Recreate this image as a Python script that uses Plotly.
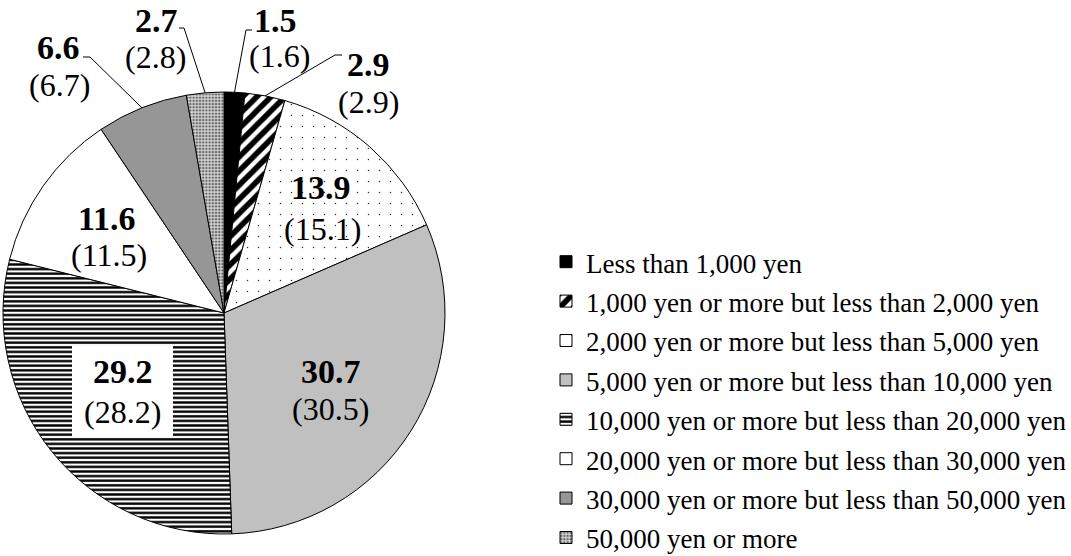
import math
import plotly.graph_objects as go

# Monthly spending brackets and their shares (%), current survey and (previous survey)
categories = [
    "Less than 1,000 yen",
    "1,000 yen or more but less than 2,000 yen",
    "2,000 yen or more but less than 5,000 yen",
    "5,000 yen or more but less than 10,000 yen",
    "10,000 yen or more but less than 20,000 yen",
    "20,000 yen or more but less than 30,000 yen",
    "30,000 yen or more but less than 50,000 yen",
    "50,000 yen or more",
]
share_current = [1.5, 2.9, 13.9, 30.7, 29.2, 11.6, 6.6, 2.7]
share_previous = [1.6, 2.9, 15.1, 30.5, 28.2, 11.5, 6.7, 2.8]

W, H = 1071, 556
FONT = "Liberation Serif"

# slice fills (monochrome print style)
base_colors = ["#000000", "#ffffff", "#ffffff", "#c0c0c0", "#ffffff", "#ffffff", "#969696", "#dcdcdc"]
pat_shapes = ["", "/", ".", "", "-", "", "", "."]
pat_fg = ["#000000", "#000000", "#333333", "#000000", "#000000", "#000000", "#000000", "#6a6a6a"]
pat_size = [8, 10, 11, 8, 4.6, 8, 8, 3.2]
pat_solidity = [0.3, 0.55, 0.015, 0.3, 0.52, 0.3, 0.3, 0.5]

# pie box in pixels: left, right, top, bottom
PIE_L, PIE_R, PIE_T, PIE_B = 3, 445, 92, 534

def px(x):
    return x / W

def py(y):
    return 1 - y / H

# legend rows are spaced by the legend font size; the text itself is set slightly smaller
legend_labels = [f'<span style="font-size:27px">{c}</span>' for c in categories]

fig = go.Figure(
    go.Pie(
        labels=legend_labels,
        values=share_current,
        sort=False,
        direction="clockwise",
        rotation=0,
        textinfo="none",
        hoverinfo="skip",
        domain=dict(x=[px(PIE_L), px(PIE_R)], y=[py(PIE_B), py(PIE_T)]),
        marker=dict(
            colors=base_colors,
            line=dict(color="#000000", width=1),
            pattern=dict(
                shape=pat_shapes,
                fgcolor=pat_fg,
                fgopacity=1,
                size=pat_size,
                solidity=pat_solidity,
                fillmode="overlay",
            ),
        ),
    )
)

# label placement (pixel centres of the bold value and of the bracketed value);
# None means the bold value hangs from the top edge of the figure
bold_pos = [(275, None), (368, 65), (321, 187), (331, 371), (123, 371), (107, 218), (58, 47), (156, None)]
paren_pos = [(279, 56), (368, 102), (322, 229), (330, 409), (122, 412), (109, 255), (59, 85), (155, 57)]

annotations = []
for i in range(len(categories)):
    bx, by = bold_pos[i]
    if by is None:
        ypos, yanc = 1.0, "top"
    else:
        ypos, yanc = py(by), "middle"
    annotations.append(dict(
        x=px(bx), y=ypos, xref="paper", yref="paper", showarrow=False,
        text=f"<b>{share_current[i]:.1f}</b>", font=dict(family=FONT, size=34, color="#000000"),
        xanchor="center", yanchor=yanc,
    ))
    qx, qy = paren_pos[i]
    annotations.append(dict(
        x=px(qx), y=py(qy), xref="paper", yref="paper", showarrow=False,
        text=f"({share_previous[i]:.1f})", font=dict(family=FONT, size=32, color="#000000"),
        xanchor="center", yanchor="middle",
    ))

# leader lines for the thin slices: from slice edge to an elbow, then a short horizontal run
cx, cy = (PIE_L + PIE_R) / 2, (PIE_T + PIE_B) / 2
radius = (PIE_R - PIE_L) / 2
total = sum(share_current)
leader_knees = {0: ((246, 30), (252, 30)), 1: ((335, 55), (342, 55)),
                6: ((90, 57), (83, 57)), 7: ((184, 28), (179, 28))}

shapes = []
cum = 0.0
for i, v in enumerate(share_current):
    mid = (cum + v / 2) / total * 2 * math.pi
    cum += v
    if i in leader_knees:
        sx = cx + radius * math.sin(mid)
        sy = cy - radius * math.cos(mid)
        (kx, ky), (ex, ey) = leader_knees[i]
        shapes.append(dict(
            type="path", xref="paper", yref="paper",
            path=f"M {px(sx)},{py(sy)} L {px(kx)},{py(ky)} L {px(ex)},{py(ey)}",
            line=dict(color="#000000", width=1),
        ))

# white backing box for the label on the striped slice
shapes.append(dict(
    type="rect", xref="paper", yref="paper",
    x0=px(72), x1=px(173), y0=py(437), y1=py(346),
    fillcolor="#ffffff", line=dict(width=0), layer="above",
))

fig.update_layout(
    width=W, height=H,
    margin=dict(l=0, r=0, t=0, b=0, autoexpand=False),
    paper_bgcolor="#ffffff",
    plot_bgcolor="#ffffff",
    font=dict(family=FONT, color="#000000"),
    showlegend=True,
    legend=dict(
        x=px(546), y=py(237), xanchor="left", yanchor="top",
        font=dict(family=FONT, size=28, color="#000000"),
        bgcolor="rgba(0,0,0,0)",
        itemclick=False, itemdoubleclick=False,
    ),
    annotations=annotations,
    shapes=shapes,
)

fig.write_html("out.html")
